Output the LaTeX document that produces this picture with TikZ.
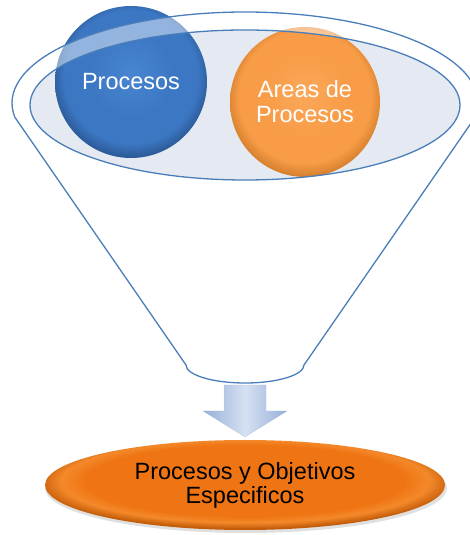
\documentclass[tikz,border=0pt]{standalone}
\usepackage{fontspec}
\setmainfont{Liberation Sans}
\usetikzlibrary{shapes.geometric}
\definecolor{linec}{HTML}{4A7EBB}
\definecolor{ellfill}{HTML}{E4E9F2}
\definecolor{blueA}{HTML}{4886D2}
\definecolor{blueB}{HTML}{3C77C3}
\definecolor{blueC}{HTML}{2C5B99}
\definecolor{orA}{HTML}{FBA85A}
\definecolor{orB}{HTML}{F89C47}
\definecolor{orC}{HTML}{D7812F}
\definecolor{boA}{HTML}{F4892A}
\definecolor{boB}{HTML}{EF7514}
\definecolor{boC}{HTML}{C45D0A}
\definecolor{arA}{HTML}{D6E1F2}
\definecolor{arB}{HTML}{96AFD9}
\pgfdeclareradialshading{blueball}{\pgfpoint{0bp}{3bp}}{color(0bp)=(blueA); color(14bp)=(blueB); color(22bp)=(blueB); color(26bp)=(blueC); color(50bp)=(blueC)}
\pgfdeclareradialshading{orball}{\pgfpoint{0bp}{3bp}}{color(0bp)=(orA); color(14bp)=(orB); color(22bp)=(orB); color(26bp)=(orC); color(50bp)=(orC)}
\pgfdeclareradialshading{boball}{\pgfpoint{0bp}{4bp}}{color(0bp)=(boB); color(20bp)=(boB); color(23bp)=(boA); color(26bp)=(boC); color(50bp)=(boC)}
\tikzset{
  funnelline/.style={draw=linec, line width=1.3pt},
  ballblue/.style={circle, minimum size=152pt, inner sep=0pt, shading=blueball, text=white,
    font=\fontsize{23.5}{25}\selectfont, align=center},
  ballorange/.style={circle, minimum size=150pt, inner sep=0pt, shading=orball, text=white,
    font=\fontsize{23.5}{25}\selectfont, align=center},
  outell/.style={ellipse, minimum width=400pt, minimum height=90pt, inner sep=0pt, shading=boball,
    text=black, font=\fontsize{23.5}{24}\selectfont, align=center},
  arrowshape/.style={left color=arB, right color=arB, middle color=arA, draw=arB!80!black, draw opacity=0.25}
}
\begin{document}
\begin{tikzpicture}[x=1pt, y=1pt]
\useasboundingbox (0,0) rectangle (470,535);
% inner ellipse fill
\fill[ellfill] (245,430) ellipse [x radius=215pt, y radius=75pt];
% circles
\node[ballblue] (p1) at (131,453) {Procesos};
\node[ballorange] (p2) at (305,433) {Areas de\\Procesos};
% funnel overlay band
\fill[white, opacity=0.45, even odd rule]
  (14.87,417.76) -- (186,170) arc[start angle=180, end angle=360, x radius=59pt, y radius=18pt]
  -- (475.13,417.76)
  arc[start angle=-9, end angle=189, x radius=233pt, y radius=91pt] -- cycle
  (245,430) ellipse [x radius=215pt, y radius=75pt];
% funnel outline
\path[funnelline, line join=round]
  (14.87,417.76) -- (186,170) arc[start angle=180, end angle=360, x radius=59pt, y radius=18pt]
  -- (475.13,417.76)
  arc[start angle=-9, end angle=189, x radius=233pt, y radius=91pt] -- cycle;
\draw[funnelline] (245,430) ellipse [x radius=215pt, y radius=75pt];
% arrow
\path[arrowshape] (224,150) -- (266,150) -- (266,124) -- (287,124) -- (245,98) -- (203,124) -- (224,124) -- cycle;
% output
\fill[black, opacity=0.12] (246,47) ellipse [x radius=201pt, y radius=45pt];
\node[outell] (out) at (245,50) {Procesos y Objetivos\\Especificos};
\end{tikzpicture}
\end{document}
